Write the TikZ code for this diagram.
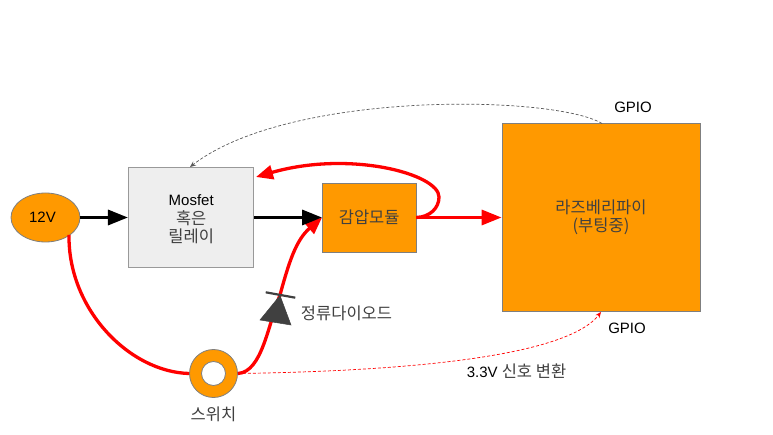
\documentclass[tikz,border=0pt]{standalone}
\usepackage{fontspec}
\setmainfont{Liberation Sans}
\newfontfamily\krfont{Noto Sans CJK KR}
\usetikzlibrary{arrows.meta,shapes.geometric}
\definecolor{org}{HTML}{FF9900}
\definecolor{lgr}{HTML}{EEEEEE}
\definecolor{edge}{HTML}{7F7F7F}
\definecolor{krt}{HTML}{404040}
\newcommand{\kr}[1]{{\krfont\fontsize{16.5}{18}\selectfont\color{krt}#1}}
\tikzset{
 orgbox/.style={draw=edge,fill=org,line width=0.8pt,inner sep=0pt,align=center,font=\fontsize{15}{18}\selectfont},
 plain/.style={inner sep=0pt,font=\fontsize{15}{18}\selectfont},
 blk/.style={line width=3.3pt,black,-{Triangle[length=20pt,width=15pt]}},
 redthick/.style={line width=3.3pt,red},
 redarrow/.style={redthick,-{Triangle[length=20pt,width=15pt]}},
 redcurve/.style={redthick,-{Triangle[length=17pt,width=14pt]}},
 thindash/.style={line width=0.7pt,dash pattern=on 3pt off 2pt,-{Stealth[length=6pt,width=5pt]}}
}
\begin{document}
\begin{tikzpicture}[x=1pt,y=-1pt]
\useasboundingbox (0,0) rectangle (773,435);
\node[ellipse,orgbox,minimum width=69pt,minimum height=49pt] (v12) at (45.5,217.5) {12V\hspace*{6pt}};
\node[orgbox,draw=edge!80,fill=lgr,line width=1pt,minimum width=125.5pt,minimum height=100.5pt] (mos) at (191.2,217.5) {\begin{tabular}{@{}c@{}}\rule{0pt}{18.6pt}Mosfet\\[-1pt]\kr{혹은}\\[-1pt]\kr{릴레이}\end{tabular}};
\node[orgbox,minimum width=93.5pt,minimum height=69pt] (buck) at (369.2,217.5) {\kr{감압모듈}};
\node[orgbox,minimum width=198pt,minimum height=188pt] (pi) at (601,217.5) {\begin{tabular}{@{}c@{}}\rule{0pt}{15.6pt}\kr{라즈베리파이}\\[-1pt]\kr{(부팅중)}\end{tabular}};
\node[circle,draw=edge,fill=org,line width=0.8pt,minimum size=48pt,inner sep=0pt] (sw) at (213.5,373.5) {};
\node[circle,draw=edge,fill=white,line width=0.8pt,minimum size=24pt,inner sep=0pt] (swin) at (213.5,373.5) {};
\node[plain] (lsw) at (213.5,414.5) {\kr{스위치}};
\node[plain] (ldi) at (346.5,313.5) {\kr{정류다이오드}};
\node[plain] (lg1) at (633,107) {GPIO};
\node[plain] (lg2) at (627,328) {GPIO};
\node[plain] (l33) at (516.5,371) {3.3V \kr{신호 변환}};
\coordinate (vs) at (69,235);
\coordinate (pitop) at (602,123.5);
\coordinate (pibot) at (601,312);
\coordinate (mostop) at (190,167);
\coordinate (mosin) at (256,177);
\coordinate (di) at (280,295);
% thin dashed
\draw[thindash,edge!70!black] (pitop) .. controls (555,95) and (290,90) .. (mostop);
\draw[thindash,red] (sw.east) .. controls (340,372) and (560,365) .. (pibot);
% red curves
\draw[redthick] (vs) .. controls (68,310) and (130,372) .. (sw.west);
\draw[redcurve] (sw.east) .. controls (262,372) and (268,325) .. (di) .. controls (289,262) and (296,240) .. (buck.west);
% black arrows
\draw[blk] (v12.east) -- (mos.west);
\draw[blk] (mos.east) -- (buck.west);
\draw[redarrow] (buck.east) -- (pi.west);
\draw[redcurve] (buck.east) .. controls (430,217) and (439,208) .. (439,197) .. controls (439,174) and (350,150) .. (mosin);
% diode
\draw[fill=krt,draw=krt,line width=0.5pt] (260,320) -- (291,325) -- (280,295.5) -- cycle;
\draw[krt,line width=2.2pt] (265.7,292.3) -- (295.3,297.7);
\end{tikzpicture}
\end{document}
